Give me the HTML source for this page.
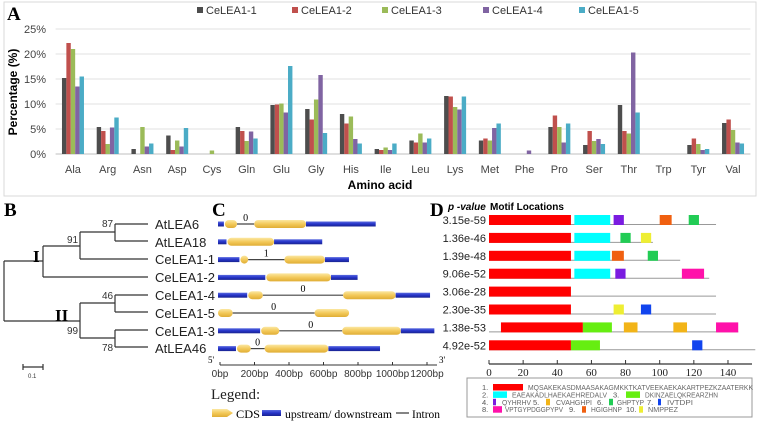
<!DOCTYPE html>
<html><head><meta charset="utf-8"><style>
html,body{margin:0;padding:0;background:#fff}
svg{display:block}
text{font-family:"Liberation Sans",sans-serif}
.serif{font-family:"Liberation Serif",serif}
.mono{font-family:"Liberation Mono",monospace}
</style></head><body>
<svg id="fig" width="760" height="424" viewBox="0 0 760 424" xmlns="http://www.w3.org/2000/svg">
<rect x="4" y="2" width="752" height="194" fill="#fff" stroke="#d9d9d9"/>
<text x="7" y="20" class="serif" font-size="19" font-weight="bold">A</text>
<g id="chartA"></g>
<text x="380" y="189" font-size="12" font-weight="bold" text-anchor="middle">Amino acid</text>
<text transform="translate(17,92) rotate(-90)" font-size="12" font-weight="bold" text-anchor="middle">Percentage (%)</text>
<g id="legendA"></g>

<!-- Panel B -->
<text x="4" y="216" class="serif" font-size="19" font-weight="bold">B</text>
<g stroke="#333" stroke-width="1.2" fill="none">
<path d="M4,261V321"/>
<path d="M4,261H43M43,246V277M43,246H80M43,277H148"/>
<path d="M80,232V259M80,232H115M80,259H148"/>
<path d="M115,224V241M115,224H148M115,241H148"/>
<path d="M4,321H80M80,303V338M80,303H115M80,338H115"/>
<path d="M115,295V312M115,295H148M115,312H148"/>
<path d="M115,330V347M115,330H148M115,347H148"/>
<path d="M23,367H43M23,364V370M43,364V370"/>
</g>
<g font-size="13" fill="#222">
<text x="155" y="229">AtLEA6</text>
<text x="155" y="247">AtLEA18</text>
<text x="155" y="264">CeLEA1-1</text>
<text x="155" y="282">CeLEA1-2</text>
<text x="155" y="300">CeLEA1-4</text>
<text x="155" y="318">CeLEA1-5</text>
<text x="155" y="336">CeLEA1-3</text>
<text x="155" y="353">AtLEA46</text>
</g>
<g font-size="10" fill="#333">
<text x="102" y="227">87</text><text x="67" y="243">91</text><text x="102" y="299">46</text><text x="67" y="334">99</text><text x="102" y="351">78</text>
</g>
<text x="33" y="262" class="serif" font-size="17" font-weight="bold">I</text>
<text x="55" y="321" class="serif" font-size="17" font-weight="bold">II</text>
<text x="28" y="378" font-size="6" fill="#333">0.1</text>

<!-- Panel C -->
<text x="212" y="216" class="serif" font-size="19" font-weight="bold">C</text>
<defs>
<linearGradient id="yel" x1="0" y1="0" x2="0" y2="1"><stop offset="0" stop-color="#fbe7a1"/><stop offset="0.5" stop-color="#f3c95a"/><stop offset="1" stop-color="#e0ad35"/></linearGradient>
<linearGradient id="blu" x1="0" y1="0" x2="0" y2="1"><stop offset="0" stop-color="#5a6ae0"/><stop offset="0.5" stop-color="#2533c8"/><stop offset="1" stop-color="#1a248f"/></linearGradient>
</defs>
<g id="geneC"></g>
<g stroke="#333" stroke-width="1">
<path d="M220,365H437"/>
<path d="M220,362V365M254.5,362V365M289,362V365M323.5,362V365M358,362V365M392.5,362V365M427,362V365"/>
</g>
<text x="208" y="363" class="serif" font-size="9">5'</text>
<text x="439" y="363" class="serif" font-size="9">3'</text>
<g class="serif" font-size="10" text-anchor="middle" fill="#333">
<text x="220" y="377">0bp</text><text x="254.5" y="377">200bp</text><text x="289" y="377">400bp</text><text x="323.5" y="377">600bp</text><text x="358" y="377">800bp</text><text x="392.5" y="377">1000bp</text><text x="427" y="377">1200bp</text>
</g>
<text x="211" y="399" class="serif" font-size="15" fill="#222">Legend:</text>
<path d="M212,409H227L233,413L227,417H212Z" fill="url(#yel)"/>
<text x="236" y="418" class="serif" font-size="12" textLength="24" lengthAdjust="spacingAndGlyphs">CDS</text>
<rect x="262" y="410" width="19" height="6" fill="url(#blu)"/>
<text x="285" y="418" class="serif" font-size="12" textLength="107" lengthAdjust="spacingAndGlyphs">upstream/ downstream</text>
<path d="M396,413H409" stroke="#333" stroke-width="1.2"/>
<text x="412" y="418" class="serif" font-size="12" textLength="28" lengthAdjust="spacingAndGlyphs">Intron</text>

<!-- Panel D -->
<text x="430" y="216" class="serif" font-size="19" font-weight="bold">D</text>
<text x="448" y="210" font-size="10" font-weight="bold" font-style="italic">p -value</text>
<text x="490" y="210" font-size="10" font-weight="bold">Motif Locations</text>
<g id="motifD"></g>
<rect x="467" y="378" width="285" height="39" fill="#fff" stroke="#999"/>
<g id="motifLegend" class="mono" font-size="7.5" fill="#666"></g>
</svg>
<script>
const NS="http://www.w3.org/2000/svg";
function mk(p,t,a){const e=document.createElementNS(NS,t);for(const k in a)e.setAttribute(k,a[k]);p.appendChild(e);return e;}
// ---- Panel A data ----
const categories=["Ala","Arg","Asn","Asp","Cys","Gln","Glu","Gly","His","Ile","Leu","Lys","Met","Phe","Pro","Ser","Thr","Trp","Tyr","Val"];
const seriesNames=["CeLEA1-1","CeLEA1-2","CeLEA1-3","CeLEA1-4","CeLEA1-5"];
const s1=[15.2,5.4,1.0,3.7,0,5.4,9.8,9.0,8.0,1.0,2.7,11.6,2.7,0,5.4,1.8,9.8,0,1.8,6.2];
const s2=[22.2,4.6,0,0.8,0,4.6,9.9,6.9,6.1,0.8,2.3,11.5,3.1,0,7.7,4.6,4.6,0,3.1,6.9];
const s3=[21.0,2.0,5.4,2.7,0.7,2.6,10.1,10.9,7.5,1.3,4.1,9.4,2.7,0,5.4,2.6,4.1,0,2.0,4.8];
const s4=[13.5,5.3,1.5,1.5,0,4.5,8.3,15.8,3.0,0.8,2.3,8.9,5.2,0.7,2.3,3.0,20.3,0,0.8,2.3];
const s5=[15.5,7.3,2.1,5.2,0,3.1,17.6,4.2,2.1,2.1,3.1,11.5,6.1,0,6.1,2.0,8.3,0,1.0,2.1];
const yTicks=[0,5,10,15,20,25];
const series=[s1,s2,s3,s4,s5];
const colors=["#4d4d4d","#c0504d","#9bbb59","#8064a2","#4bacc6"];
const X0=55.6,X1=750.4,Y0=154,Y1=29,YMAX=25;
const band=(X1-X0)/categories.length;
const yS=v=>Y0-(v/YMAX)*(Y0-Y1);
const xS=i=>X0+band*i;
const gA=document.getElementById('chartA');
yTicks.forEach(t=>{
  const l=mk(gA,'line',{x1:X0,x2:X1,y1:yS(t),y2:yS(t),stroke:t===0?'#bfbfbf':'#e0e0e0'});
  
  
  const tx=mk(gA,'text',{x:46,y:yS(t)+4,'font-size':11,'text-anchor':'end',fill:'#444'});
  tx.textContent=t+'%';
  
  
});
const bw=4.4;
categories.forEach((c,i)=>{
  const cx=xS(i)+band/2;
  series.forEach((s,j)=>{
    const v=s[i];
    const r=mk(gA,'rect',{x:cx-2.5*bw+j*bw,y:yS(v),width:bw,height:Y0-yS(v),fill:colors[j]});
    
    
  });
  const t=mk(gA,'text',{x:cx,y:173,'font-size':11,'text-anchor':'middle',fill:'#444'});
  t.textContent=c;
  
  
});
const lg=document.getElementById('legendA');
const lgX=[197,292,382,483,579];
seriesNames.forEach((n,j)=>{
  const r=mk(lg,'rect',{x:lgX[j],y:7,width:6,height:6,fill:colors[j]});
  
  
  const t=mk(lg,'text',{x:lgX[j]+9,y:14,'font-size':11,fill:'#333'});
  t.textContent=n;
  
  
});
// ---- Panel C gene structures (bp) ----
const geneRows=[
 [["u",0,40],["c",40,110],["i",110,210,"0"],["c",210,510],["u",510,920]],
 [["u",0,55],["c",55,325],["u",325,610]],
 [["u",0,130],["c",130,175],["i",175,385,"1"],["c",385,620],["u",620,765]],
 [["u",0,280],["c",280,655],["u",655,815]],
 [["u",0,175],["c",175,260],["i",260,725,"0"],["c",725,1030],["u",1030,1235]],
 [["c",0,85],["i",85,560,"0"],["c",560,760]],
 [["u",0,250],["c",250,355],["i",355,720,"0"],["c",720,1060],["u",1060,1260]],
 [["u",0,110],["c",110,190],["i",190,270,"0"],["c",270,640],["u",640,945]]
];
const bpX=b=>218+b*0.1725;
const gC=document.getElementById('geneC');
geneRows.forEach((row,r)=>{
  const y=224+r*17.8;
  row.forEach(s=>{
    const a=bpX(s[1]),b=bpX(s[2]);
    let e;
    if(s[0]==="u"){e=mk(gC,'rect',{x:a,y:y-2.5,width:b-a-1,height:5,fill:'url(#blu)'});}
    else if(s[0]==="c"){e=mk(gC,'rect',{x:a,y:y-4,width:b-a,height:8,rx:4,fill:'url(#yel)'});}
    else{e=mk(gC,'line',{x1:a,x2:b,y1:y,y2:y,stroke:'#444','stroke-width':1.2});
      const t=mk(gC,'text',{x:(a+b)/2,y:y-3,'font-size':10,'text-anchor':'middle',class:'serif'});t.textContent=s[3];
      
      }
    
  });
});
// ---- Panel D motifs ----
const pvals=["3.15e-59","1.36e-46","1.39e-48","9.06e-52","3.06e-28","2.30e-35","1.38e-53","4.92e-52"];
const lens=[133,96,112,129,133,133,146,156];
const mcol={1:"#ff0000",2:"#00ffff",3:"#66ee11",4:"#7a1ce0",5:"#f2b418",6:"#22cc55",7:"#1144ee",8:"#ff11aa",9:"#f06010",10:"#eeee33"};
const motifs=[
 [[1,0,48],[2,50,71],[4,73,79],[9,100,107],[6,117,123]],
 [[1,0,48],[2,50,71],[6,77,83],[10,89,95]],
 [[1,0,48],[2,50,71],[9,72,79],[6,93,99]],
 [[1,0,48],[2,50,71],[4,74,80],[8,113,126]],
 [[1,0,48]],
 [[1,0,48],[10,73,79],[7,89,95]],
 [[1,7,55],[3,55,72],[5,79,87],[5,108,116],[8,133,146]],
 [[1,0,48],[3,48,65],[7,119,125]]
];
const aaX=v=>489+v*1.707;
const gD=document.getElementById('motifD');
pvals.forEach((p,r)=>{
  const y=220+r*17.9;
  const l=mk(gD,'line',{x1:aaX(0),x2:aaX(lens[r]),y1:y+4.5,y2:y+4.5,stroke:'#999','stroke-width':1});
  
  
  motifs[r].forEach(m=>{
    const e=mk(gD,'rect',{x:aaX(m[1]),y:y-5,width:aaX(m[2])-aaX(m[1]),height:10,fill:mcol[m[0]]});
    
    
  });
  const t=mk(gD,'text',{x:486,y:y+4,'font-size':11,'text-anchor':'end',fill:'#222'});
  t.textContent=p;
  
  
});
const ax=mk(gD,'path',{d:'M489,364H752',stroke:'#333','stroke-width':1.2,fill:'none'});


[0,20,40,60,80,100,120,140].forEach(v=>{
  const tk=mk(gD,'line',{x1:aaX(v),x2:aaX(v),y1:360,y2:364,stroke:'#333'});
  
  
  const t=mk(gD,'text',{x:aaX(v),y:376,'font-size':11,'text-anchor':'middle',class:'serif',fill:'#222'});
  t.textContent=v;
  
  
});
// [motif, numberX, swatchX, swatchW, textX, textEnd, sequence]
const legRows=[
 [[1,482,493,30,528,753,"MQSAKEKASDMAASAKAGMKKTKATVEEKAEKAKARTPEZKZAATERKK"]],
 [[2,482,493,14,512,607,"EAEAKADLHAEKAEHREDALV"],[3,613,626,14,645,718,"DKINZAELQKREARZHN"]],
 [[4,482,493,3,502,531,"QYHRHV"],[5,533,546,4,556,592,"CVAHGHPI"],[6,597,609,4,617,644,"GHPTYP"],[7,647,658,3,667,693,"IVTDPI"]],
 [[8,482,493,9,505,563,"VPTGYPDGGPYPV"],[9,569,582,4,591,622,"HGIGHNP"],[10,626,639,4,648,678,"NMPPEZ"]]
];
const lm=document.getElementById('motifLegend');
legRows.forEach((row,r)=>{
  const y=390+r*7.4;
  row.forEach(it=>{
    const n=mk(lm,'text',{x:it[1],y:y,'font-family':'Liberation Sans','font-size':7.5,fill:'#555'});n.textContent=it[0]+'.';
    
    
    const sw=mk(lm,'rect',{x:it[2],y:y-6,width:it[3],height:6.5,fill:mcol[it[0]]});
    
    
    const t=mk(lm,'text',{x:it[4],y:y,textLength:it[5]-it[4],lengthAdjust:'spacingAndGlyphs'});t.textContent=it[6];
    
    
  });
});
</script>
</body></html>
